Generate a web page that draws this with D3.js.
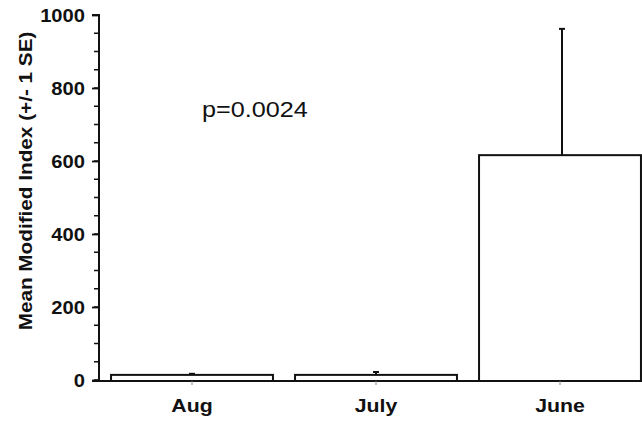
<!DOCTYPE html>
<html><head><meta charset="utf-8">
<script src="https://cdn.jsdelivr.net/npm/d3@7"></script>
<style>body{margin:0;background:#fff}svg{display:block}</style>
</head><body>
<script>
const categories = ["Aug", "July", "June"];
const means = [14, 14, 616];
const ses = [3, 8, 346];
const yMajorTicks = [0, 200, 400, 600, 800, 1000];
const yMinorTicks = d3.range(0, 1001, 50);
const yLabel = "Mean Modified Index (+/- 1 SE)";
const annotation = "p=0.0024";

const W = 642, H = 426;
const svg = d3.select("body").append("svg").attr("width", W).attr("height", H);
const ink = "#111";
const font = "Arial, 'Liberation Sans', sans-serif";

const y = d3.scaleLinear().domain([0, 1000]).range([380, 15]);
const x = d3.scaleBand().domain(categories).range([100, 652]).paddingInner(0.12).paddingOuter(0.06);

const axisX = 99, baseY = 381;

// y axis minor ticks
svg.append("g").selectAll("line").data(yMinorTicks).join("line")
  .attr("x1", axisX - 5).attr("x2", axisX).attr("y1", d => y(d)).attr("y2", d => y(d))
  .attr("stroke", ink).attr("stroke-width", 1.5);
// y axis via d3.axisLeft
const yAxis = d3.axisLeft(y).tickValues(yMajorTicks).tickSize(7).tickPadding(7).tickFormat(d3.format("d"));
const gy = svg.append("g").attr("transform", `translate(${axisX},0)`).call(yAxis);
gy.select(".domain").attr("stroke", ink).attr("stroke-width", 2).attr("d", `M-7,${y(1000)}H0V${baseY}`);
gy.selectAll(".tick line").attr("stroke", ink).attr("stroke-width", 1.8);
gy.selectAll(".tick text").attr("fill", ink).attr("font-family", font).attr("font-weight", "bold")
  .attr("font-size", 18).attr("dy", "0.36em");

// bars
svg.append("g").selectAll("rect").data(categories).join("rect")
  .attr("x", d => x(d)).attr("width", x.bandwidth())
  .attr("y", (d, i) => y(means[i])).attr("height", (d, i) => baseY - y(means[i]))
  .attr("fill", "#fff").attr("stroke", ink).attr("stroke-width", 2);

// error bars
const eb = svg.append("g");
categories.forEach((c, i) => {
  const cx = x(c) + x.bandwidth() / 2 + (i === 2 ? 2 : 0);
  eb.append("line").attr("x1", cx).attr("x2", cx).attr("y1", y(means[i])).attr("y2", y(means[i] + ses[i]))
    .attr("stroke", ink).attr("stroke-width", 2);
  eb.append("line").attr("x1", cx - 3).attr("x2", cx + 3).attr("y1", y(means[i] + ses[i])).attr("y2", y(means[i] + ses[i]))
    .attr("stroke", ink).attr("stroke-width", 2);
});

// x axis
const xAxis = d3.axisBottom(x).tickSize(4).tickPadding(14);
const gx = svg.append("g").attr("transform", `translate(0,${baseY})`).call(xAxis);
gx.select(".domain").attr("stroke", ink).attr("stroke-width", 2).attr("d", `M92,0H642`);
gx.selectAll(".tick line").attr("stroke", "#888").attr("stroke-width", 1);
gx.selectAll(".tick text").attr("fill", ink).attr("font-family", font).attr("font-weight", "bold")
  .attr("font-size", 19).attr("dy", "0.71em");

// y label
svg.append("text").attr("class", "ylab")
  .attr("transform", "translate(32,181) rotate(-90)")
  .attr("text-anchor", "middle").attr("font-family", font).attr("font-weight", "bold")
  .attr("font-size", 18.5).attr("fill", ink).text(yLabel);

// annotation
svg.append("text").attr("x", 202).attr("y", 117)
  .attr("font-family", font).attr("font-size", 22.5).attr("fill", ink).text(annotation);

// horizontal stretch to mimic the scanned figure
svg.selectAll("text").each(function() {
  const L = this.getComputedTextLength();
  d3.select(this).attr("textLength", L * 1.12).attr("lengthAdjust", "spacingAndGlyphs");
});
</script>
</body></html>
